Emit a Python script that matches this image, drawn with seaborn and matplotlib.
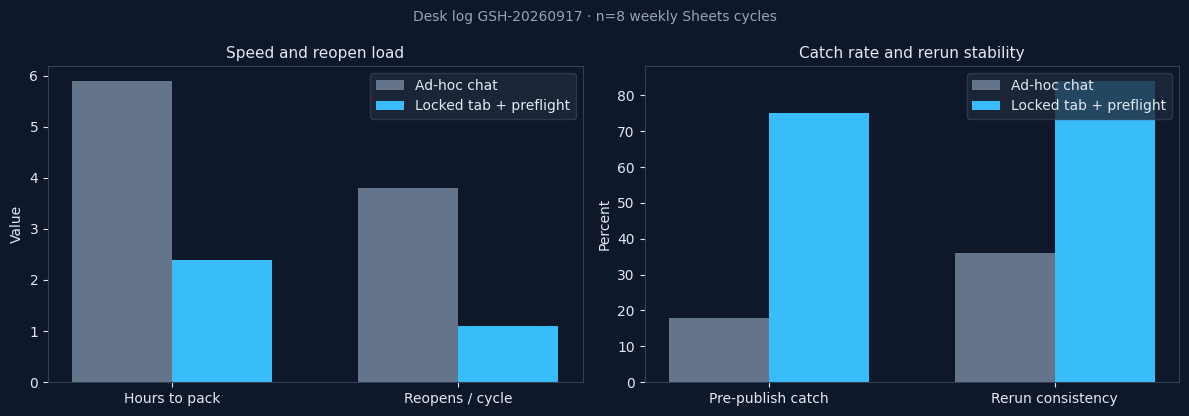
import pandas as pd
import matplotlib
matplotlib.use("Agg")
import matplotlib.pyplot as plt
import seaborn as sns

SERIES = ["Ad-hoc chat", "Locked tab + preflight"]

LEFT_CATS = ["Hours to pack", "Reopens / cycle"]
LEFT_ADHOC = [5.9, 3.8]
LEFT_LOCKED = [2.4, 1.1]

RIGHT_CATS = ["Pre-publish catch", "Rerun consistency"]
RIGHT_ADHOC = [18, 36]
RIGHT_LOCKED = [75, 84]

BG = "#0f172a"
EDGE = "#334155"
TEXT = "#e2e8f0"
MUTED = "#94a3b8"
PALETTE = {"Ad-hoc chat": "#64748b", "Locked tab + preflight": "#38bdf8"}


def to_frame(cats, a, b):
    rows = []
    for c, v in zip(cats, a):
        rows.append({"cat": c, "series": SERIES[0], "value": v})
    for c, v in zip(cats, b):
        rows.append({"cat": c, "series": SERIES[1], "value": v})
    return pd.DataFrame(rows)


sns.set_style("dark")
plt.rcParams.update({
    "figure.facecolor": BG,
    "axes.facecolor": BG,
    "axes.edgecolor": EDGE,
    "text.color": TEXT,
    "axes.labelcolor": TEXT,
    "xtick.color": TEXT,
    "ytick.color": TEXT,
})
plt.rcParams["font.family"] = ["DejaVu Sans"]

fig, axes = plt.subplots(1, 2, figsize=(11.89, 4.16), dpi=100)
fig.subplots_adjust(left=0.0404, right=0.9916, top=0.8413, bottom=0.0817,
                    wspace=0.116)

panels = [
    (axes[0], to_frame(LEFT_CATS, LEFT_ADHOC, LEFT_LOCKED),
     "Speed and reopen load", "Value", max(LEFT_ADHOC + LEFT_LOCKED)),
    (axes[1], to_frame(RIGHT_CATS, RIGHT_ADHOC, RIGHT_LOCKED),
     "Catch rate and rerun stability", "Percent", max(RIGHT_ADHOC + RIGHT_LOCKED)),
]

for ax, df, title, ylabel, top in panels:
    sns.barplot(data=df, x="cat", y="value", hue="series", palette=PALETTE,
                width=0.7, gap=0, saturation=1, ax=ax, errorbar=None,
                linewidth=0, edgecolor="none")
    ax.set_xlim(-0.435, 1.435)
    ax.set_ylim(0, top * 1.05)
    ax.set_title(title, color=TEXT, fontsize=11)
    ax.set_xlabel("")
    ax.set_ylabel(ylabel, fontsize=10)
    ax.grid(False)
    ax.tick_params(axis="both", which="both", length=3.5, labelsize=10,
                   left=True, bottom=True, color=TEXT)
    for s in ax.spines.values():
        s.set_color(EDGE)
        s.set_visible(True)
    leg = ax.legend(loc="upper right", facecolor="#1e293b", edgecolor=EDGE,
                    framealpha=0.8, fontsize=10)
    for t in leg.get_texts():
        t.set_color(TEXT)

fig.suptitle("Desk log GSH-20260917 · n=8 weekly Sheets cycles",
             color=MUTED, fontsize=10, y=0.975)
fig.savefig("out.png", dpi=100, facecolor=BG)
